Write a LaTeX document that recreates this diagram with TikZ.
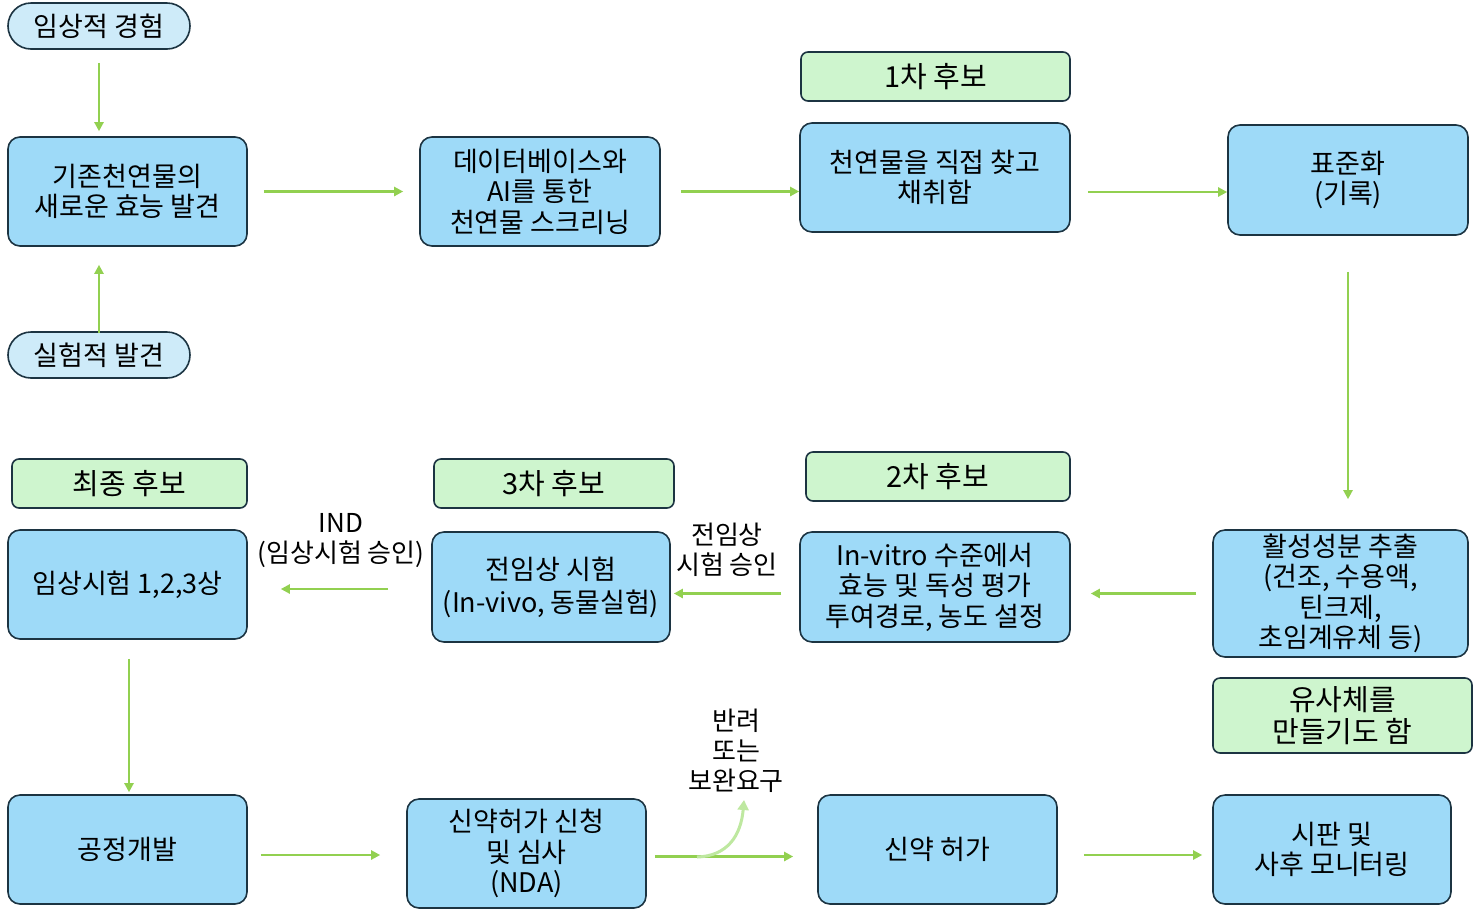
\documentclass[tikz,border=0pt]{standalone}
\usepackage{fontspec}
\setmainfont{Noto Sans CJK KR}
\usetikzlibrary{arrows.meta}
\definecolor{boxblue}{RGB}{158,218,248}
\definecolor{pillblue}{RGB}{206,235,249}
\definecolor{candgreen}{RGB}{206,245,206}
\definecolor{bordc}{RGB}{28,52,66}
\definecolor{arrgreen}{RGB}{146,208,80}
\definecolor{arrlight}{RGB}{190,232,160}
\begin{document}
\begin{tikzpicture}[x=1pt,y=-1pt,
  base/.style={draw=bordc, line width=1.6pt, align=center, inner sep=0pt, font=\fontsize{27}{30.5}\selectfont},
  box/.style={base, fill=boxblue, rounded corners=12pt},
  pill/.style={base, fill=pillblue, rounded corners=23pt},
  cand/.style={base, fill=candgreen, rounded corners=7pt, font=\fontsize{29}{32}\selectfont},
  lbl/.style={align=center, inner sep=0pt, font=\fontsize{26}{30}\selectfont},
  flow/.style={draw=arrgreen, line width=2.7pt, -{Triangle[length=9pt,width=9pt]}},
  flowlight/.style={draw=arrlight, line width=3pt, -{Triangle[length=10pt,width=11pt]}}
]
\useasboundingbox (0,0) rectangle (1478,914);

% pills
\node[pill, minimum width=182pt, minimum height=46pt] (p1) at (99,26) {임상적 경험};
\node[pill, minimum width=182pt, minimum height=46pt] (p2) at (99,355) {실험적 발견};

% boxes
\node[box, minimum width=239pt, minimum height=109pt] (A) at (127.5,191.5) {기존천연물의\\새로운 효능 발견};
\node[box, minimum width=240pt, minimum height=109pt] (B) at (540,191.5) {데이터베이스와\\AI를 통한\\천연물 스크리닝};
\node[cand, minimum width=269pt, minimum height=49pt] (g1) at (935.5,76.5) {1차 후보};
\node[box, minimum width=270pt, minimum height=109pt] (C) at (935,177.5) {천연물을 직접 찾고\\채취함};
\node[box, minimum width=240pt, minimum height=110pt] (D) at (1348,180) {표준화\\(기록)};
\node[box, minimum width=255pt, minimum height=127pt] (E) at (1340.5,593.5) {활성성분 추출\\(건조, 수용액,\\틴크제,\\초임계유체 등)};
\node[cand, minimum width=259pt, minimum height=75pt] (gE) at (1342.5,715.5) {유사체를\\만들기도 함};
\node[cand, minimum width=264pt, minimum height=49pt] (g2) at (938,476.5) {2차 후보};
\node[box, minimum width=270pt, minimum height=110pt] (F) at (935,587) {In-vitro 수준에서\\효능 및 독성 평가\\투여경로, 농도 설정};
\node[cand, minimum width=240pt, minimum height=49pt] (g3) at (554,483.5) {3차 후보};
\node[box, minimum width=238pt, minimum height=110pt, font=\fontsize{27}{33}\selectfont] (G) at (551,587) {전임상 시험\\(In-vivo, 동물실험)};
\node[cand, minimum width=235pt, minimum height=49pt] (g4) at (129.5,483.5) {최종 후보};
\node[box, minimum width=239pt, minimum height=109pt] (H) at (127.5,584.5) {임상시험 1,2,3상};
\node[box, minimum width=239pt, minimum height=109pt] (I) at (127.5,849.5) {공정개발};
\node[box, minimum width=239pt, minimum height=109pt] (J) at (526.5,853.5) {신약허가 신청\\및 심사\\(NDA)};
\node[box, minimum width=239pt, minimum height=109pt] (K) at (937.5,849.5) {신약 허가};
\node[box, minimum width=238pt, minimum height=109pt] (L) at (1332,849.5) {시판 및\\사후 모니터링};

% labels
\node[lbl] (lIND) at (341,541) {IND\\(임상시험 승인)};
\node[lbl] (lpre) at (727,550) {전임상\\시험 승인};
\node[lbl] (lrej) at (736,751) {반려\\또는\\보완요구};

% arrows
\draw[flow, shorten <=13pt, shorten >=5pt] (p1.south) -- (p1.south |- A.north);
\draw[flow, shorten <=-2pt, shorten >=18pt] (p2.north) -- (p2.north |- A.south);
\draw[flow, shorten <=16pt, shorten >=16pt] (A) -- (B);
\draw[flow, shorten <=20pt] (B.east) -- (C.west |- B.east);
\draw[flow, shorten <=17pt] ([yshift=-12pt]C.east |- D.west) -- ([yshift=-12pt]D.west);
\draw[flow, shorten <=36pt, shorten >=30pt] (D.south) -- (D.south |- E.north);
\draw[flow, shorten <=16pt, shorten >=20pt] (E.west) -- (E.west -| F.east);
\draw[flow, shorten <=18pt, shorten >=3pt] (F.west |- E.west) -- (G.east |- E.west);
\draw[flow, shorten <=43pt, shorten >=33pt] ([yshift=-2pt]G.west) -- ([yshift=-2pt]G.west -| H.east);
\draw[flow, shorten <=19pt, shorten >=2pt] ([xshift=1.5pt]H.south) -- ([xshift=1.5pt]H.south |- I.north);
\draw[flow, shorten <=13pt, shorten >=26pt] ([yshift=-5.5pt]I.east) -- ([yshift=-5.5pt]I.east -| J.west);
\draw[flow, shorten <=8pt, shorten >=24pt] (J.east |- K.east) ++(0,7) coordinate (jk) -- (jk -| K.west);
\draw[flow, shorten <=26pt, shorten >=10pt] ([yshift=-5.5pt]K.east) -- ([yshift=-5.5pt]K.east -| L.west);

% reject curve
\coordinate (rs) at (697,857);
\coordinate (re) at (744,800);
\draw[flowlight] (rs) .. controls (728,856) and (741,835) .. (re);
\end{tikzpicture}
\end{document}
